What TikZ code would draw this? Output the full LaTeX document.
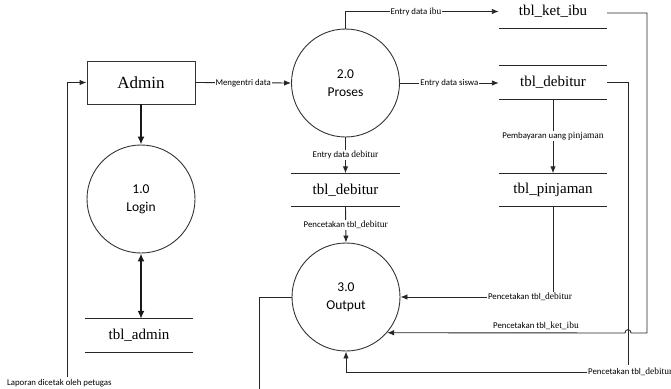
\documentclass[tikz,border=0pt]{standalone}
\usepackage{fontspec}
\setmainfont{Liberation Serif}
\newfontfamily\lblf{Carlito}
\newfontfamily\serf{Liberation Serif}
\usetikzlibrary{arrows.meta}
\tikzset{
  ln/.style={draw=black!85, line width=0.9pt},
  arr/.style={ln, -{Latex[length=7pt,width=5.5pt]}},
  thick arr/.style={draw=black!90, line width=2.2pt, -{Latex[length=8pt,width=7pt]}},
  proc/.style={circle, draw=black!80, line width=0.9pt, minimum size=108pt, inner sep=0pt, align=center,
     font=\lblf\fontsize{13.5}{18}\selectfont},
  entity/.style={rectangle, draw=black!80, line width=0.9pt, minimum width=108pt, minimum height=43pt,
     font=\serf\fontsize{17}{20}\selectfont},
  store/.style={minimum width=108pt, minimum height=33pt, inner sep=0pt, font=\serf\fontsize{15}{18}\selectfont,
     append after command={(\tikzlastnode.north west) edge[ln] (\tikzlastnode.north east)
                           (\tikzlastnode.south west) edge[ln] (\tikzlastnode.south east)}},
  lab/.style={fill=white, inner sep=1pt, font=\lblf\fontsize{8.8}{10}\selectfont, text=black},
}
\newcommand{\sw}[1]{{\serf\fontsize{9.5}{10}\selectfont #1}}
\begin{document}
\begin{tikzpicture}[x=1pt,y=-1pt]
\useasboundingbox[fill=white] (0,0) rectangle (671,388);
% processes and entities
\node[entity] (admin) at (141,82.5) {Admin};
\node[proc] (p1) at (141,199) {1.0\\Login};
\node[proc] (p2) at (345.5,83) {2.0\\Proses};
\node[proc] (p3) at (346,297) {3.0\\Output};
% stores
\node[store] (sadmin) at (139,335.5) {tbl\_admin};
\node[store] (sket) at (553,11.5) {tbl\_ket\_ibu};
\node[store] (sdeb) at (553,82.5) {tbl\_debitur};
\node[store] (spin) at (553,190) {tbl\_pinjaman};
\node[store] (smid) at (345.5,190) {tbl\_debitur};
% coordinates
\coordinate (lapc) at (67,377);
\coordinate (debc) at (628,365);
\coordinate (ketc) at (647,333);
\coordinate (outc) at (259,390);
% connectors
\draw[arr] (lapc) |- (admin.west);
\node[lab, fill=none, anchor=west] (laplab) at (6,383) {Laporan dicetak oleh petugas};
\draw[arr] (admin.east) -- node[lab] {Mengentri data} (p2.west);
\draw[thick arr] (admin.south) -- (p1.north);
\draw[thick arr, {Latex[length=8pt,width=7pt]}-{Latex[length=8pt,width=7pt]}] (p1.south) -- (sadmin.north -| p1.south);
\draw[arr] (p2.north) |- node[lab, pos=0.73] {Entry data \sw{ibu}\hspace{8pt}} (sket.west);
\draw[arr] (p2.east) -- node[lab] {Entry data siswa} (p2.east -| sdeb.west);
\draw[arr] (p2.south) -- node[lab] {Entry data \sw{debitur}} (smid.north);
\draw[arr] (smid.south) -- node[lab] {Pencetakan tbl\_\sw{debitur}} (p3.north);
\draw[arr] (sdeb.south) -- node[lab] {Pembayaran uang \sw{pinjaman}} (spin.north);
\draw[arr] (spin.south) |- node[lab, pos=0.575] {Pencetakan tbl\_\sw{debitur}} (p3.east);
% right side long returns
\draw[ln] (sdeb.east) -| (debc);
\node[lab, anchor=west] (deblab) at (587,372) {Pencetakan tbl\_\sw{debitur}};
\draw[arr] (deblab.west) -| (p3.south);
\draw[arr] (sket.east |- 0,13) -| (ketc) -- (631,333) .. controls (631,328.5) and (625,328.5) .. (625,333) -- (p3.-41.8);
\node[lab, fill=none] (ketlab) at (536,326) {Pencetakan tbl\_\sw{ket\_ibu}};
\draw[ln] (p3.west) -| (outc);
\end{tikzpicture}
\end{document}
